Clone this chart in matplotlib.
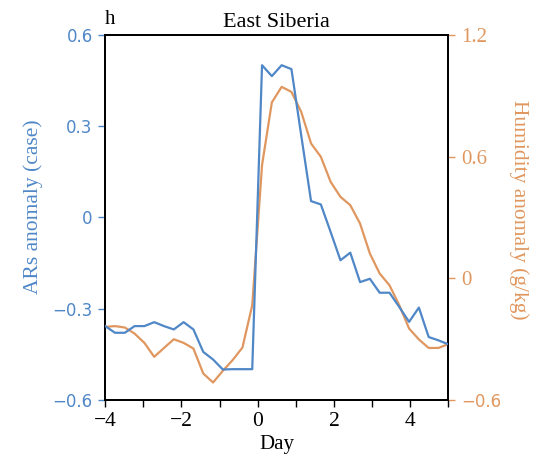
import matplotlib
matplotlib.use("Agg")
import matplotlib.pyplot as plt
import numpy as np

# --- data ---
days = np.linspace(-4, 5, 36)
ars_case = [-0.358, -0.380, -0.380, -0.358, -0.358, -0.345, -0.358, -0.369,
            -0.345, -0.369, -0.443, -0.468, -0.501, -0.500, -0.500, -0.500,
            0.502, 0.466, 0.502, 0.489, 0.270, 0.054, 0.043, -0.048,
            -0.141, -0.116, -0.213, -0.202, -0.248, -0.248, -0.295, -0.344,
            -0.297, -0.394, -0.405, -0.418]
humidity = [-0.241, -0.237, -0.244, -0.274, -0.320, -0.389, -0.345, -0.302,
            -0.320, -0.348, -0.471, -0.516, -0.458, -0.405, -0.343, -0.134,
            0.559, 0.869, 0.946, 0.921, 0.822, 0.666, 0.600, 0.476,
            0.402, 0.361, 0.270, 0.122, 0.023, -0.035, -0.134, -0.249,
            -0.303, -0.345, -0.345, -0.326]

left_ticks = [-0.6, -0.3, 0, 0.3, 0.6]
left_labels = ["\u22120.6", "\u22120.3", "0", "0.3", "0.6"]
right_ticks = [-0.6, 0, 0.6, 1.2]
right_labels = ["\u22120.6", "0", "0.6", "1.2"]
x_ticks = [-4, -2, 0, 2, 4]
x_labels = ["\u22124", "\u22122", "0", "2", "4"]

blue = "#4f87c7"
orange = "#e0975f"
serif = ['Liberation Serif', 'DejaVu Serif']
sans = ['DejaVu Sans']
plt.rcParams['font.family'] = serif

W, H = 534, 459
fig = plt.figure(figsize=(W / 100, H / 100), dpi=100)
ax = fig.add_axes([0.197, 0.1296, 0.6425, 0.7931])
ax2 = ax.twinx()

ax.plot(days, ars_case, color=blue, lw=1.6, zorder=3)
ax2.plot(days, humidity, color=orange, lw=1.6, zorder=2)
ax.set_zorder(ax2.get_zorder() + 1)
ax.patch.set_visible(False)

ax.set_xlim(-4, 5)
ax.set_ylim(-0.6, 0.6)
ax2.set_ylim(-0.6, 1.2)

ax.set_xticks(x_ticks)
ax.set_xticklabels(x_labels, fontsize=15.5)
ax.set_xticks(np.arange(-3, 6, 2), minor=True)
ax.tick_params(axis='x', which='both', direction='out', length=5, width=1, colors='black', pad=4)

ax.set_yticks(left_ticks)
ax.set_yticklabels(left_labels, fontsize=12, color=blue, family=sans)
ax.tick_params(axis='y', direction='out', length=5, width=1, color=blue, labelcolor=blue, pad=4)

ax2.set_yticks(right_ticks)
ax2.set_yticklabels(right_labels, fontsize=15, color=orange)
for lab in ax2.get_yticklabels():
    if lab.get_text().startswith("\u2212"):
        lab.set_family(sans)
        lab.set_fontsize(12)
ax2.tick_params(axis='y', direction='out', length=5, width=1, color=orange, labelcolor=orange, pad=4)

for a in (ax, ax2):
    for s in a.spines.values():
        s.set_linewidth(1.3)
        s.set_color('black')

ax.set_xlabel("Day", fontsize=15, labelpad=3)
fig.text(33 / W, 1 - 207 / H, "ARs anomaly (case)", fontsize=15.5, color=blue,
         rotation=90, ha='center', va='center')
fig.text(519 / W, 1 - 210 / H, "Humidity anomaly (g/kg)", fontsize=15.5, color=orange,
         rotation=270, ha='center', va='center')

ax.set_title("East Siberia", fontsize=16, pad=6)
ax.text(0.0, 1.018, "h", transform=ax.transAxes, fontsize=15, ha='left', va='bottom')

fig.savefig("out.png", dpi=100)
